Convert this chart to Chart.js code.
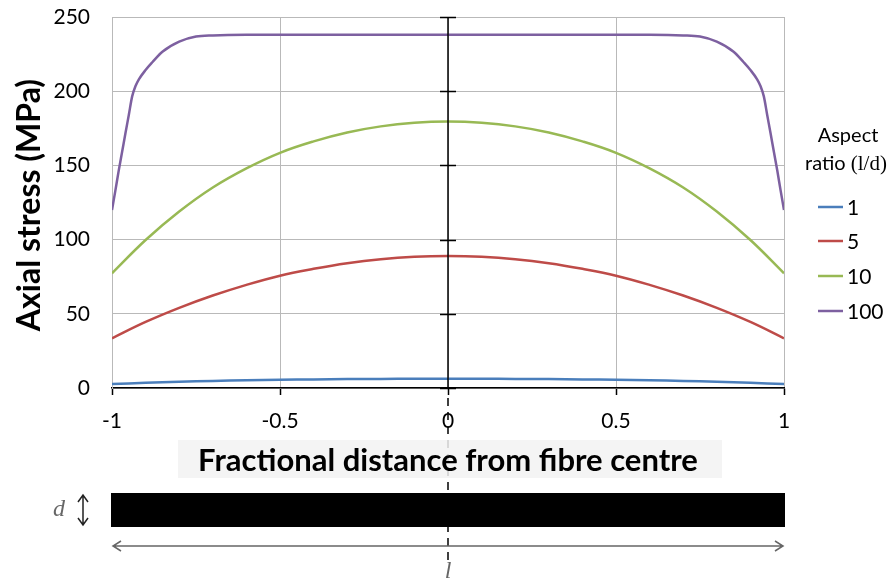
<!DOCTYPE html>
<html>
<head>
<meta charset="utf-8">
<script src="https://cdn.jsdelivr.net/npm/chart.js@4/dist/chart.umd.min.js"></script>
<style>
  html, body { margin: 0; padding: 0; background: #ffffff; }
  #wrap { width: 894px; height: 582px; position: relative; }
</style>
</head>
<body>
<div id="wrap"><canvas id="chart" width="894" height="582"></canvas></div>
<script>
// Positions along the fibre (fraction of half-length from the centre)
const xPositions = [-1, -0.9, -0.8, -0.7, -0.6, -0.5, -0.4, -0.3, -0.2, -0.1, 0,
                    0.1, 0.2, 0.3, 0.4, 0.5, 0.6, 0.7, 0.8, 0.9, 1];

// Axial stress (MPa) for each aspect ratio
const stressRatio1 = [2.7, 3.5, 4.2, 4.8, 5.2, 5.5, 5.8, 6.0, 6.1, 6.2, 6.2,
                      6.2, 6.1, 6.0, 5.8, 5.5, 5.2, 4.8, 4.2, 3.5, 2.7];
const stressRatio5 = [33.5, 44.5, 54.0, 62.3, 69.5, 75.7, 80.3, 84.1, 86.8, 88.4, 88.9,
                      88.4, 86.8, 84.1, 80.3, 75.7, 69.5, 62.3, 54.0, 44.5, 33.5];
const stressRatio10 = [77.3, 99.7, 118.9, 135.1, 148.0, 158.5, 166.2, 172.2, 176.3, 178.7, 179.5,
                       178.7, 176.3, 172.2, 166.2, 158.5, 148.0, 135.1, 118.9, 99.7, 77.3];

// The long fibre changes quickly near its ends, so it is sampled more finely there
const xPositions100 = [-1, -0.99, -0.98, -0.97, -0.96, -0.95, -0.94, -0.93, -0.92, -0.9, -0.88,
                       -0.85, -0.8, -0.75, -0.7, -0.6, -0.5, -0.25, 0, 0.25, 0.5, 0.6, 0.7,
                       0.75, 0.8, 0.85, 0.88, 0.9, 0.92, 0.93, 0.94, 0.95, 0.96, 0.97, 0.98, 0.99, 1];
const stressRatio100 = [120, 133, 146.5, 159, 171.6, 184, 196.5, 203.5, 208, 214.3, 219.5,
                        226.6, 233.4, 236.8, 237.6, 238, 238, 238, 238, 238, 238, 238, 237.6,
                        236.8, 233.4, 226.6, 219.5, 214.3, 208, 203.5, 196.5, 184, 171.6, 159, 146.5, 133, 120];

const seriesLabels = ['1', '5', '10', '100'];
const seriesColors = ['#4a7ebb', '#be4b48', '#98b954', '#7d60a0'];

const xTickValues = [-1, -0.5, 0, 0.5, 1];
const xTickLabels = ['-1', '-0.5', '0', '0.5', '1'];
const yTickValues = [0, 50, 100, 150, 200, 250];
const yTickLabels = ['0', '50', '100', '150', '200', '250'];

const FONT = 'Lato, "Open Sans", sans-serif';
const GRID = '#b9b9b9';

function pairs(xs, ys) { return xs.map((x, i) => ({ x: x, y: ys[i] })); }

const seriesData = [
  pairs(xPositions, stressRatio1),
  pairs(xPositions, stressRatio5),
  pairs(xPositions, stressRatio10),
  pairs(xPositions100, stressRatio100)
];

// Extra drawing: centre axis, titles, legend and the fibre sketch underneath
const fibreDecor = {
  id: 'fibreDecor',
  afterDraw(chart) {
    const ctx = chart.ctx;
    const xs = chart.scales.x, ys = chart.scales.y;
    const x0 = xs.getPixelForValue(0);
    const top = ys.getPixelForValue(250), bottom = ys.getPixelForValue(0);
    ctx.save();

    // Vertical axis through the fibre centre with crossing tick marks
    ctx.strokeStyle = '#000';
    ctx.lineWidth = 1.5;
    ctx.beginPath();
    ctx.moveTo(x0, top);
    ctx.lineTo(x0, bottom);
    yTickValues.forEach(v => {
      const py = Math.round(ys.getPixelForValue(v)) + 0.5;
      ctx.moveTo(x0 - 8, py);
      ctx.lineTo(x0 + 8, py);
    });
    ctx.stroke();

    // Y axis title
    ctx.fillStyle = '#000';
    ctx.font = 'bold 32px ' + FONT;
    ctx.textAlign = 'center';
    ctx.textBaseline = 'middle';
    ctx.save();
    ctx.translate(30, 205);
    ctx.rotate(-Math.PI / 2);
    ctx.fillText('Axial stress (MPa)', 0, 0);
    ctx.restore();

    // Dashed centre line running down through the sketch
    ctx.strokeStyle = '#000';
    ctx.lineWidth = 1.5;
    ctx.setLineDash([8, 6]);
    ctx.beginPath();
    ctx.moveTo(x0, bottom + 10);
    ctx.lineTo(x0, 562);
    ctx.stroke();
    ctx.setLineDash([]);

    // X axis title on a light panel
    ctx.fillStyle = 'rgba(242,242,242,0.85)';
    ctx.fillRect(178, 440, 544, 38);
    ctx.fillStyle = '#000';
    ctx.font = 'bold 31px ' + FONT;
    ctx.textAlign = 'center';
    ctx.textBaseline = 'middle';
    ctx.fillText('Fractional distance from fibre centre', x0, 461);

    // Fibre sketch
    const xl = xs.getPixelForValue(-1), xr = xs.getPixelForValue(1);
    ctx.fillStyle = '#000';
    ctx.fillRect(xl - 1, 493, xr - xl + 2, 34);

    ctx.strokeStyle = '#666';
    ctx.lineWidth = 1.5;
    // length arrow
    ctx.beginPath();
    ctx.moveTo(xl + 1, 546); ctx.lineTo(xr - 1, 546);
    ctx.moveTo(xl + 9, 541); ctx.lineTo(xl + 1, 546); ctx.lineTo(xl + 9, 551);
    ctx.moveTo(xr - 9, 541); ctx.lineTo(xr - 1, 546); ctx.lineTo(xr - 9, 551);
    ctx.stroke();
    // diameter arrow
    ctx.strokeStyle = '#222';
    ctx.beginPath();
    ctx.moveTo(83, 495); ctx.lineTo(83, 525);
    ctx.moveTo(78, 502); ctx.lineTo(83, 495); ctx.lineTo(88, 502);
    ctx.moveTo(78, 518); ctx.lineTo(83, 525); ctx.lineTo(88, 518);
    ctx.stroke();

    ctx.fillStyle = '#666';
    ctx.font = 'italic 24px "Liberation Serif", "DejaVu Serif", serif';
    ctx.textAlign = 'center';
    ctx.textBaseline = 'middle';
    ctx.fillText('d', 59, 510);
    ctx.fillText('l', x0, 572);

    // Legend
    ctx.fillStyle = '#000';
    ctx.font = '20px ' + FONT;
    ctx.textAlign = 'center';
    ctx.fillText('Aspect', 848, 136);
    const part1 = 'ratio ';
    const part2 = '(l/d)';
    const serif = '21px "Liberation Serif", "DejaVu Serif", serif';
    const w1 = ctx.measureText(part1).width;
    ctx.font = serif;
    const w2 = ctx.measureText(part2).width;
    const startX = 846 - (w1 + w2) / 2;
    ctx.textAlign = 'left';
    ctx.font = '20px ' + FONT;
    ctx.fillText(part1, startX, 164);
    ctx.font = serif;
    ctx.fillText(part2, startX + w1, 164);

    const legendY = [207, 241, 276, 311];
    ctx.font = '21px ' + FONT;
    chart.data.datasets.forEach((ds, i) => {
      const y = legendY[i];
      ctx.strokeStyle = ds.borderColor;
      ctx.lineWidth = 2.5;
      ctx.beginPath();
      ctx.moveTo(818, y);
      ctx.lineTo(843, y);
      ctx.stroke();
      ctx.fillStyle = '#000';
      ctx.textAlign = 'left';
      ctx.fillText(ds.label, 847, y + 1);
    });

    ctx.restore();
  }
};

new Chart(document.getElementById('chart'), {
  type: 'line',
  data: {
    datasets: seriesData.map((d, i) => ({
      label: seriesLabels[i],
      data: d,
      borderColor: seriesColors[i],
      backgroundColor: seriesColors[i],
      borderWidth: 2.5,
      pointRadius: 0,
      fill: false,
      tension: i === 3 ? 0 : 0.4,
      cubicInterpolationMode: i === 3 ? 'monotone' : 'default'
    }))
  },
  options: {
    responsive: false,
    animation: false,
    events: [],
    layout: { padding: { top: 17, right: 110, bottom: 134, left: 0 } },
    plugins: { legend: { display: false }, tooltip: { enabled: false } },
    scales: {
      x: {
        type: 'linear',
        min: -1,
        max: 1,
        afterBuildTicks(scale) { scale.ticks = xTickValues.map(v => ({ value: v })); },
        afterFit(scale) { scale.height = 60; scale.paddingLeft = 0; scale.paddingRight = 0; },
        ticks: {
          callback: (v, i) => xTickLabels[i],
          font: { family: FONT, size: 21 },
          color: '#000',
          padding: 14,
          maxRotation: 0
        },
        grid: { color: GRID, lineWidth: 1, tickColor: '#000', tickLength: 7, tickWidth: 1.5 },
        border: { color: '#000', width: 1.5 }
      },
      y: {
        type: 'linear',
        min: 0,
        max: 250,
        afterBuildTicks(scale) { scale.ticks = yTickValues.map(v => ({ value: v })); },
        afterFit(scale) { scale.width = 112; scale.paddingTop = 0; scale.paddingBottom = 0; },
        ticks: {
          callback: (v, i) => yTickLabels[i],
          font: { family: FONT, size: 21 },
          color: '#000',
          padding: 22
        },
        grid: { color: GRID, lineWidth: 1, drawTicks: false },
        border: { color: GRID, width: 1 }
      }
    }
  },
  plugins: [fibreDecor]
});
</script>
</body>
</html>
